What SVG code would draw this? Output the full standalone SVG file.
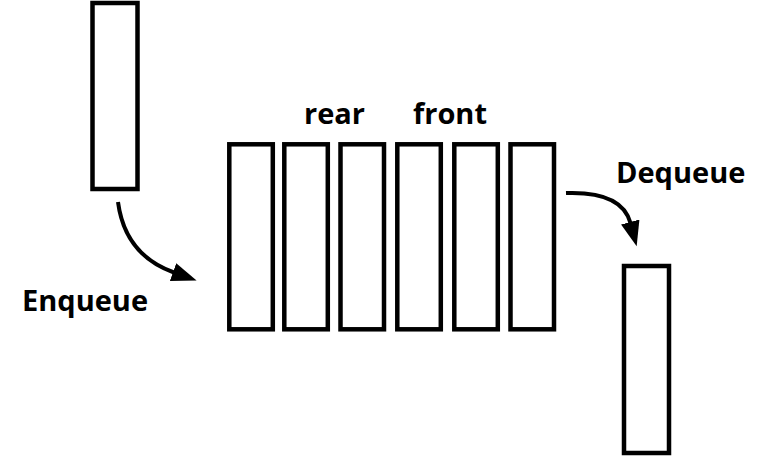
<svg xmlns="http://www.w3.org/2000/svg" width="770" height="456" viewBox="0 0 770 456">
<style>
.box{fill:#fff;stroke:#000;stroke-width:4.5}
.lbl{font-family:"Open Sans","Liberation Sans",sans-serif;font-weight:bold;font-size:29px;fill:#000}
.conn{fill:none;stroke:#000;stroke-width:4}
</style>
<defs>
<marker id="arr" markerUnits="userSpaceOnUse" markerWidth="27" markerHeight="22" viewBox="0 -11 27 22" refX="1" refY="0" orient="auto">
<path d="M0,-9.5 L25,0 L0,9.5 z" fill="#000"/>
</marker>
</defs>
<rect width="770" height="456" fill="#fff"/>
<g id="enqueue-item"><rect class="box" x="92.5" y="3" width="45" height="186"/></g>
<g id="queue">
<rect class="box" x="229.3" y="144.3" width="43.5" height="185"/>
<rect class="box" x="284.3" y="144.3" width="43.5" height="185"/>
<rect class="box" x="340.5" y="144.3" width="43.5" height="185"/>
<rect class="box" x="397.3" y="144.3" width="43.5" height="185"/>
<rect class="box" x="454.3" y="144.3" width="43.5" height="185"/>
<rect class="box" x="510.5" y="144.3" width="43.5" height="185"/>
</g>
<g id="dequeue-item"><rect class="box" x="624" y="266" width="45" height="187"/></g>
<g id="labels">
<text class="lbl" x="304" y="124">rear</text>
<text class="lbl" x="413" y="124">front</text>
<text class="lbl" x="22" y="311">Enqueue</text>
<text class="lbl" x="616" y="183">Dequeue</text>
</g>
<g id="connectors">
<path class="conn" d="M118,202 Q125,255 174,272.5" marker-end="url(#arr)"/>
<path class="conn" d="M566,193 Q622,191 630.5,223" marker-end="url(#arr)"/>
</g>
</svg>
